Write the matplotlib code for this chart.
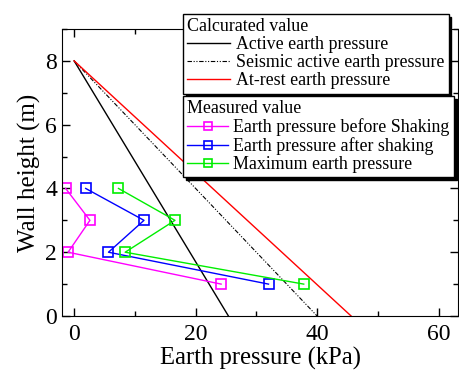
import matplotlib
matplotlib.use("Agg")
import matplotlib.pyplot as plt
from matplotlib.ticker import MultipleLocator

plt.rcParams['font.family'] = ['Liberation Serif', 'DejaVu Serif']

# Calculated lines (height vs pressure)
calc_height = [8, 0]
active = [0, 25.4]
seismic = [0, 40.0]
at_rest = [0, 45.6]

# Measured values
meas_height = [4, 3, 2, 1]
before = [-1.4, 2.6, -1.0, 24.2]
after = [1.9, 11.5, 5.65, 32.0]
maximum = [7.3, 16.6, 8.4, 37.8]

xticks = [0, 20, 40, 60]
yticks = [0, 2, 4, 6, 8]

fig = plt.figure(figsize=(4.59, 3.76), dpi=100)
ax = fig.add_axes([62/459, 60/376, (458-62)/459, (316-29)/376])

l1, = ax.plot(active, calc_height, color='black', lw=1, label='Active earth pressure')
l2, = ax.plot(seismic, calc_height, color='black', lw=0.8, ls=(0, (4, 1.5, 1, 1.5, 1, 1.5)),
              label='Seismic active earth pressure')
l3, = ax.plot(at_rest, calc_height, color='red', lw=1, label='At-rest earth pressure')

mk = dict(marker='s', markersize=7.5, markerfacecolor='none', lw=1, markeredgewidth=1.2)
m1, = ax.plot(before, meas_height, color='#ff00ff', label='Earth pressure before Shaking', **mk)
m2, = ax.plot(after, meas_height, color='#0000ff', label='Earth pressure after shaking', **mk)
m3, = ax.plot(maximum, meas_height, color='#00ee00', label='Maximum earth pressure', **mk)

ax.set_xlim(-2, 63.2)
ax.set_ylim(0, 9)
ax.set_xticks(xticks)
ax.set_yticks(yticks)
ax.xaxis.set_minor_locator(MultipleLocator(10))
ax.yaxis.set_minor_locator(MultipleLocator(1))
ax.tick_params(which='both', direction='in', top=True, right=True, labelsize=17)
ax.tick_params(which='major', length=6, width=1)
ax.tick_params(which='minor', length=3.5, width=1)
ax.tick_params(axis='x', pad=6)
ax.set_xlabel('Earth pressure (kPa)', fontsize=17.7, labelpad=1)
ax.set_ylabel('Wall height (m)', fontsize=18, labelpad=3)

shadow = {'color': 'black', 'alpha': 1}
common = dict(loc='upper left', bbox_transform=fig.transFigure, borderaxespad=0,
              fancybox=False, edgecolor='black', framealpha=1, shadow=shadow,
              fontsize=12.9, title_fontsize=12.9, alignment='left',
              handletextpad=0.3, labelspacing=0.05, borderpad=0.25)
leg1 = ax.legend(handles=[l1, l2, l3], title='Calcurated value',
                 bbox_to_anchor=(183/459, 1-14/376), handlelength=2.4, **common)
leg1.get_frame().set_linewidth(1)
ax.add_artist(leg1)
leg2 = ax.legend(handles=[m1, m2, m3], title='Measured value',
                 bbox_to_anchor=(183/459, 1-96/376), handlelength=2.25, **common)
leg2.get_frame().set_linewidth(1)
for h in leg2.legend_handles:
    h.set_markersize(5.5)

fig.savefig('out.png', dpi=100)
